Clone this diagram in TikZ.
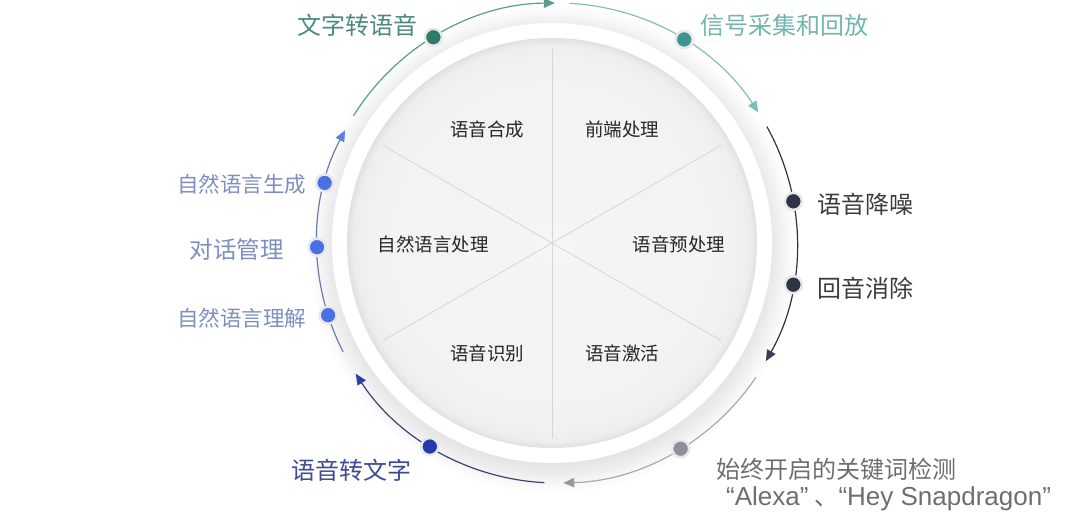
\documentclass[tikz,border=0pt]{standalone}
\usepackage{fontspec}
\setmainfont{Noto Sans CJK SC}
\newfontfamily\latinfont{Liberation Sans}
\usepackage{tikz}
\usetikzlibrary{arrows.meta, calc, positioning}

\definecolor{ttsgreen}{HTML}{4A8A78}
\definecolor{ttsdot}{HTML}{2E7B69}
\definecolor{ttsarc}{HTML}{5A9D8A}
\definecolor{sigteal}{HTML}{72B5AE}
\definecolor{sigdot}{HTML}{3E9490}
\definecolor{sigarc}{HTML}{86BDB9}
\definecolor{sigtip}{HTML}{73C0BB}
\definecolor{predark}{HTML}{3C3C3C}
\definecolor{predot}{HTML}{2E3445}
\definecolor{prearc}{HTML}{333333}
\definecolor{pretip}{HTML}{3A3F50}
\definecolor{kwsgray}{HTML}{6E6E6E}
\definecolor{kwsdot}{HTML}{8D8F9E}
\definecolor{kwsarc}{HTML}{AAAAAA}
\definecolor{kwstip}{HTML}{999999}
\definecolor{sttblue}{HTML}{3E4A95}
\definecolor{sttdot}{HTML}{2239B0}
\definecolor{sttarc}{HTML}{3A4470}
\definecolor{stttip}{HTML}{2B3EA8}
\definecolor{nlpblue}{HTML}{7D8FC0}
\definecolor{nlpdot}{HTML}{4A70E6}
\definecolor{nlparc}{HTML}{6C7CA8}
\definecolor{nlptip}{HTML}{5B80E0}
\definecolor{sectortext}{HTML}{262626}

% the circle radius of a shaded path is 25bp
\pgfdeclareradialshading{discshadow}{\pgfpoint{0bp}{0bp}}{color(0bp)=(black!12); color(21.5bp)=(black!12); color(23bp)=(black!7); color(24.3bp)=(black!2); color(25bp)=(white); color(50bp)=(white)}
\pgfdeclareradialshading{innerdisc}{\pgfpoint{0bp}{0bp}}{color(0bp)=(black!4); color(22bp)=(black!5); color(24.2bp)=(black!7); color(25bp)=(black!12); color(50bp)=(black!12)}

\begin{document}
\begin{tikzpicture}[
        x=1pt, y=1pt,
        dot/.style={circle, fill=#1, draw=black!9, line width=2.5pt, minimum size=17pt, inner sep=0pt},
        outer/.style={font=\fontsize{24}{27}\selectfont, text=#1, inner sep=0pt},
        nlplabel/.style={font=\fontsize{21.5}{25}\selectfont, text=nlpblue, inner sep=0pt},
        sector/.style={font=\fontsize{18.5}{22}\selectfont, text=sectortext, inner sep=0pt},
        divider/.style={draw=black!16, line width=0.8pt},
        flow/.style 2 args={line width=1.2pt, draw=#1, -{Triangle[length=11pt, width=9.5pt, color=#2]}}
    ]
        \useasboundingbox (0,0) rectangle (1080,515);
        \coordinate (O) at (557,272);
        \coordinate (I) at (552,272);

        % Disc with its shadow
        \shade[shading=discshadow] ($(I)+(0,-6)$) circle (245);
        \fill[white] (I) circle (220);
        \shade[shading=innerdisc] (I) circle (205);
        \foreach \a in {30,90,150}
            \draw[divider] ($(I)+(\a:195)$) -- ($(I)+(\a+180:195)$);

        % Sector labels
        \node[sector] (synth) at (487,386) {语音合成};
        \node[sector] (front) at (622,386) {前端处理};
        \node[sector] (nlp) at (433,271) {自然语言处理};
        \node[sector] (prep) at (679,271) {语音预处理};
        \node[sector] (asr) at (487,162) {语音识别};
        \node[sector] (wake) at (622,162) {语音激活};

        % Arc ends
        \coordinate (ttsstart) at ($(O)+(148:240)$);
        \coordinate (sigstart) at ($(O)+(87:240)$);
        \coordinate (prestart) at ($(O)+(29:240)$);
        \coordinate (kwsstart) at ($(O)+(-34:240)$);
        \coordinate (sttstart) at ($(O)+(-93:240)$);
        \coordinate (nlpstart) at ($(O)+(-153:240)$);

        % Arcs
        \draw[flow={ttsarc}{ttsarc}] (ttsstart) arc[start angle=148, end angle=90.5, radius=240];
        \draw[flow={sigarc}{sigtip}] (sigstart) arc[start angle=87, end angle=33, radius=240];
        \draw[flow={prearc}{pretip}] (prestart) arc[start angle=29, end angle=-29.5, radius=240];
        \draw[flow={kwsarc}{kwstip}] (kwsstart) arc[start angle=-34, end angle=-88.5, radius=240];
        \draw[flow={sttarc}{stttip}] (sttstart) arc[start angle=-93, end angle=-147, radius=240];
        \draw[flow={nlparc}{nlptip}] (nlpstart) arc[start angle=-153, end angle=-208, radius=240];

        % Dots on the ring
        \node[dot=ttsdot] (ttsdot) at ($(O)+(121:240)$) {};
        \node[dot=sigdot] (sigdot) at ($(O)+(58:240)$) {};
        \node[dot=predot] (noisedot) at ($(O)+(10:240)$) {};
        \node[dot=predot] (echodot) at ($(O)+(-10:240)$) {};
        \node[dot=kwsdot] (kwsdot) at ($(O)+(-59:240)$) {};
        \node[dot=sttdot] (sttdot) at ($(O)+(-122:240)$) {};
        \node[dot=nlpdot] (nlgdot) at ($(O)+(165.5:240)$) {};
        \node[dot=nlpdot] (dmdot) at ($(O)+(181:240)$) {};
        \node[dot=nlpdot] (nludot) at ($(O)+(197.5:240)$) {};

        % Outer labels
        \node[outer=ttsgreen] (tts) at (357,490) {文字转语音};
        \node[outer=sigteal] (sig) at (784,490) {信号采集和回放};
        \node[outer=predark] (noise) at (865,311) {语音降噪};
        \node[outer=predark] (echo) at (865,227) {回音消除};
        \node[outer=kwsgray, align=left, anchor=north west] (kws) at (716,57) {始终开启的关键词检测\\\hspace*{10pt}{\latinfont\fontsize{26}{27}\selectfont “Alexa”}\hspace{6pt}、{\latinfont\fontsize{26}{27}\selectfont “Hey Snapdragon”}};
        \node[outer=sttblue] (stt) at (351,45) {语音转文字};
        \node[nlplabel] (nlg) at (241.5,331) {自然语言生成};
        \node[nlplabel, font=\fontsize{23.5}{27}\selectfont] (dm) at (236.5,265) {对话管理};
        \node[nlplabel] (nlu) at (241.5,197) {自然语言理解};
    \end{tikzpicture}
\end{document}
